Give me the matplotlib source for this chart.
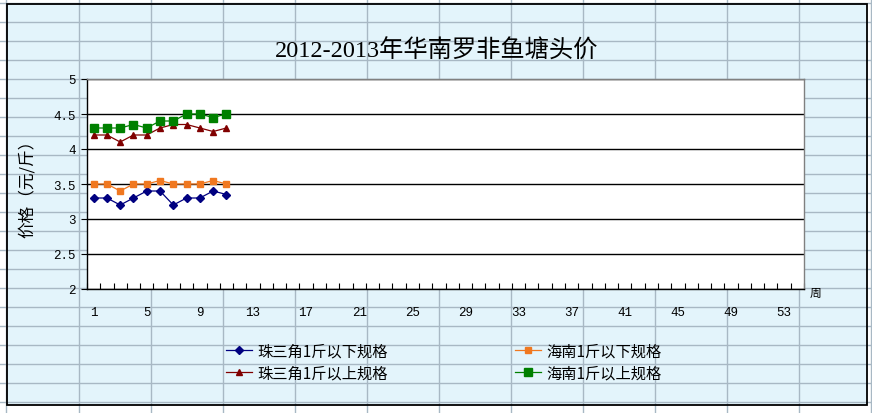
import matplotlib
matplotlib.use("Agg")
import matplotlib.pyplot as plt
from matplotlib.lines import Line2D
from matplotlib.patches import Rectangle
import numpy as np

plt.rcParams['font.family'] = ['Noto Sans CJK SC', 'DejaVu Sans']

# ---------------- data ----------------
title = "2012-2013年华南罗非鱼塘头价"
ylabel = "价格（元/斤）"
xlabel = "周"
weeks = list(range(1, 12))
zsj_below = [3.3, 3.3, 3.2, 3.3, 3.4, 3.4, 3.2, 3.3, 3.3, 3.4, 3.35]
hn_below = [3.5, 3.5, 3.4, 3.5, 3.5, 3.55, 3.5, 3.5, 3.5, 3.55, 3.5]
zsj_above = [4.2, 4.2, 4.1, 4.2, 4.2, 4.3, 4.35, 4.35, 4.3, 4.25, 4.3]
hn_above = [4.3, 4.3, 4.3, 4.35, 4.3, 4.4, 4.4, 4.5, 4.5, 4.45, 4.5]
names = ["珠三角1斤以下规格", "珠三角1斤以上规格", "海南1斤以下规格", "海南1斤以上规格"]
n_weeks = 54
xtick_labels = list(range(1, 55, 4))
yticks = [2, 2.5, 3, 3.5, 4, 4.5, 5]

W, H = 872, 414
fig = plt.figure(figsize=(W / 100, H / 100), dpi=100, facecolor='white')

def fx(px):
    return px / W

def fy(py):
    return 1 - py / H

# spreadsheet background
fig.add_artist(Rectangle((fx(7), fy(406)), fx(867) - fx(7), fy(5) - fy(406),
                         transform=fig.transFigure, facecolor='#E3F4FB',
                         edgecolor='none', zorder=0))
grid_c = '#A8B8C4'
for k in range(-1, 12):
    x = 78.5 + 72.05 * k
    fig.add_artist(Line2D([fx(x), fx(x)], [0, 1], transform=fig.transFigure,
                          color=grid_c, lw=1.0, zorder=0.5))
for k in range(-1, 22):
    y = 22.7 + 19.0 * k
    fig.add_artist(Line2D([0, 1], [fy(y), fy(y)], transform=fig.transFigure,
                          color=grid_c, lw=1.0, zorder=0.5))
fig.add_artist(Rectangle((fx(7), fy(406)), fx(867) - fx(7), fy(5) - fy(406),
                         transform=fig.transFigure, facecolor='none',
                         edgecolor='black', lw=1.3, zorder=1))

ax = fig.add_axes([fx(87), fy(290), fx(804) - fx(87), fy(80) - fy(290)])
ax.set_zorder(2)
ax.set_facecolor('white')

ax.plot(weeks, zsj_below, color='#000080', marker='D', markersize=3.6, lw=0.9, label=names[0])
ax.plot(weeks, zsj_above, color='#800000', marker='^', markersize=5, lw=0.9, label=names[1])
ax.plot(weeks, hn_below, color='#F07820', marker='s', markersize=4.3, lw=0.9, label=names[2])
ax.plot(weeks, hn_above, color='#008000', marker='s', markersize=6, lw=0.9, label=names[3])

ax.set_xlim(0.5, n_weeks + 0.5)
ax.set_ylim(2, 5)
ax.set_yticks(yticks)
ax.set_yticklabels([f"{v:g}" for v in yticks], family='Liberation Mono', fontsize=9)
ax.yaxis.grid(True, color='black', lw=1.0)
ax.set_axisbelow(True)
ax.tick_params(axis='y', direction='out', length=4, width=0.8, pad=4)

ax.set_xticks(xtick_labels)
ax.set_xticklabels([str(v) for v in xtick_labels], family='Liberation Mono', fontsize=9)
ax.set_xticks(np.arange(0.5, n_weeks + 1, 1), minor=True)
ax.tick_params(axis='x', which='major', length=0, pad=12)
ax.tick_params(axis='x', which='minor', direction='in', length=4, width=0.8)

for s in ['top', 'right']:
    ax.spines[s].set_color('#808080')
    ax.spines[s].set_linewidth(1.0)
for s in ['left', 'bottom']:
    ax.spines[s].set_color('black')
    ax.spines[s].set_linewidth(1.0)

fig.text(fx(437), fy(51), title, ha='center', va='center', fontsize=17.5,
         family=['Liberation Serif', 'Noto Sans CJK SC'])
fig.text(fx(27), fy(185), ylabel, rotation=90, ha='center', va='center', fontsize=12)
fig.text(fx(816), fy(293), xlabel, ha='center', va='center', fontsize=8.5)

handles, labels = ax.get_legend_handles_labels()
leg = fig.legend(handles, labels, ncol=2, loc='center', bbox_to_anchor=(fx(444), fy(363)),
                 frameon=False, fontsize=11, handlelength=1.7, handletextpad=0.35,
                 columnspacing=8.3, labelspacing=0.35, borderaxespad=0)

fig.savefig('out.png', dpi=100)
